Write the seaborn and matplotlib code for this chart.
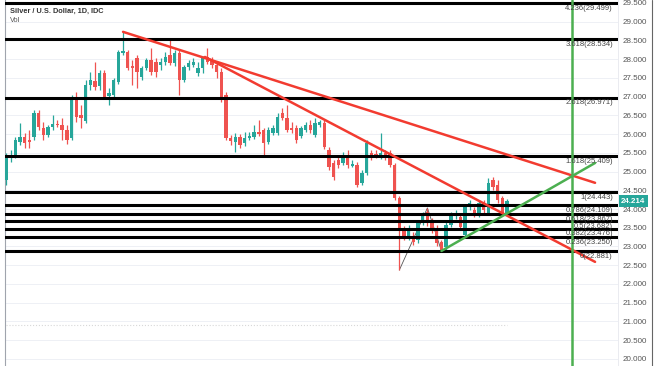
import matplotlib
matplotlib.use("Agg")
import matplotlib.pyplot as plt
import matplotlib.transforms as mtransforms
from matplotlib.lines import Line2D
import numpy as np
import seaborn as sns

# daily candles (oldest first)
opens = [24.78, 25.39, 25.44, 25.79, 25.92, 25.82, 25.92, 26.56, 26.16, 25.98,
         26.19, 26.27, 26.24, 26.11, 25.90, 26.91, 26.51, 26.35, 27.31, 27.42,
         27.28, 27.63, 27.02, 27.04, 27.39, 28.17, 28.19, 27.79, 28.03, 27.53,
         27.77, 27.98, 27.93, 27.85, 27.93, 28.11, 27.90, 28.17, 27.45, 27.79,
         27.85, 27.63, 27.77, 28.06, 27.98, 27.85, 27.66, 27.04, 25.90, 25.79,
         25.92, 25.76, 25.90, 25.92, 26.06, 26.11, 25.79, 26.03, 26.03, 26.56,
         26.43, 26.16, 26.16, 25.95, 26.11, 26.24, 25.98, 26.24, 26.30, 25.58,
         25.23, 25.31, 25.23, 25.39, 25.16, 25.18, 24.70, 24.96, 25.50, 25.44,
         25.39, 25.50, 25.50, 25.18, 24.30, 23.44, 23.26, 23.26, 23.18, 23.66,
         23.92, 23.66, 23.49, 23.12, 22.99, 23.58, 23.82, 23.79, 23.31, 24.06,
         23.98, 23.84, 24.16, 23.90, 24.78, 24.64, 24.30, 23.90]
highs = [25.50, 25.58, 25.92, 26.30, 26.03, 26.11, 26.64, 26.64, 26.32, 26.24,
         26.51, 26.38, 26.43, 26.24, 27.04, 27.12, 26.78, 27.45, 27.66, 27.93,
         27.71, 27.71, 27.23, 27.50, 28.25, 28.73, 28.25, 27.98, 28.11, 27.82,
         28.03, 28.30, 28.03, 28.03, 28.19, 28.57, 28.25, 28.25, 27.85, 27.98,
         28.03, 27.93, 28.09, 28.30, 28.06, 27.93, 27.77, 27.12, 25.98, 26.03,
         26.00, 26.06, 26.06, 26.24, 26.38, 26.16, 26.19, 26.24, 26.56, 26.70,
         26.78, 26.32, 26.24, 26.22, 26.32, 26.38, 26.43, 26.38, 26.38, 25.66,
         25.31, 25.39, 25.52, 25.58, 25.31, 25.26, 25.04, 25.84, 25.58, 25.58,
         26.03, 25.58, 25.58, 25.23, 24.35, 23.55, 23.58, 23.39, 23.71, 23.92,
         24.03, 23.76, 23.58, 23.18, 23.66, 23.92, 23.98, 23.87, 24.14, 24.24,
         24.06, 24.24, 24.24, 24.83, 24.86, 24.78, 24.35, 24.27]
lows = [24.64, 25.26, 25.36, 25.71, 25.63, 25.63, 25.84, 26.11, 25.84, 25.92,
        26.11, 26.19, 25.84, 25.74, 25.84, 26.32, 26.16, 26.30, 27.18, 27.18,
        27.18, 26.96, 26.78, 26.99, 27.34, 28.11, 27.71, 27.31, 27.23, 27.45,
        27.71, 27.58, 27.53, 27.71, 27.85, 27.85, 27.82, 27.04, 27.39, 27.71,
        27.79, 27.55, 27.63, 27.87, 27.77, 27.50, 26.86, 25.84, 25.71, 25.52,
        25.63, 25.68, 25.84, 25.87, 25.95, 25.44, 25.74, 25.98, 25.98, 26.38,
        26.06, 26.03, 25.76, 25.90, 26.06, 26.03, 25.92, 26.19, 25.60, 25.04,
        24.78, 25.10, 25.18, 25.10, 25.12, 24.59, 24.64, 24.91, 25.31, 25.36,
        25.34, 25.31, 25.12, 24.24, 22.37, 23.18, 23.18, 23.04, 23.10, 23.58,
        23.55, 23.36, 23.01, 22.881, 22.91, 23.52, 23.74, 23.44, 23.26, 23.98,
        23.79, 23.79, 23.90, 23.84, 24.51, 24.16, 23.84, 23.84]
closes = [25.39, 25.44, 25.84, 25.92, 25.76, 25.79, 26.56, 26.19, 25.98, 26.19,
          26.27, 26.24, 26.11, 25.84, 26.91, 26.46, 26.43, 27.31, 27.45, 27.26,
          27.63, 26.99, 27.10, 27.45, 28.19, 28.22, 27.77, 27.77, 27.66, 27.77,
          27.98, 27.66, 27.66, 27.93, 28.06, 27.90, 28.17, 27.45, 27.79, 27.90,
          27.93, 27.77, 28.03, 27.93, 27.85, 27.66, 26.91, 25.90, 25.82, 25.92,
          25.71, 25.90, 25.95, 26.06, 26.00, 25.76, 26.11, 26.16, 26.46, 26.43,
          26.11, 26.11, 25.84, 26.16, 26.24, 26.11, 26.30, 26.32, 25.66, 25.12,
          24.86, 25.18, 25.39, 25.18, 25.18, 24.64, 24.96, 25.76, 25.39, 25.42,
          25.50, 25.39, 25.18, 24.30, 23.44, 23.26, 23.49, 23.12, 23.66, 23.84,
          23.63, 23.44, 23.10, 22.91, 23.58, 23.84, 23.84, 23.52, 24.06, 24.16,
          23.84, 24.16, 23.98, 24.70, 24.59, 24.24, 23.90, 24.214]

# fibonacci extension levels
fib_ratios = ["4.236", "3.618", "2.618", "1.618", "1", "0.786", "0.618", "0.5", "0.382", "0.236", "0"]
fib_prices = [29.499, 28.534, 26.971, 25.409, 24.443, 24.109, 23.867, 23.682, 23.476, 23.250, 22.881]

price_ticks = [20.0, 20.5, 21.0, 21.5, 22.0, 22.5, 23.0, 23.5, 24.0, 24.5,
               25.0, 25.5, 26.0, 26.5, 27.0, 27.5, 28.0, 28.5, 29.0, 29.5]
last_price = 24.214

# drawings: (bar index, price)
upper_trend_x = [25, 125.8]
upper_trend_y = [28.73, 24.70]
lower_trend_x = [42.5, 125.8]
lower_trend_y = [28.06, 22.59]
support_x = [93, 125.8]
support_y = [22.881, 25.23]
wave_x = [84, 90, 93]
wave_y = [22.37, 24.03, 22.881]
time_marker = 120.9

GREEN = "#26a69a"
RED = "#ef5350"
LINE_RED = "#f23b30"
LINE_GREEN = "#4caf50"

sns.set_theme(style="white")
plt.rcParams["font.family"] = ["Liberation Sans", "DejaVu Sans"]

fig = plt.figure(figsize=(6.54, 3.66), dpi=100)
ax = fig.add_axes([5 / 654, 0, 613 / 654, 1])

# light price grid
for t in price_ticks:
    ax.axhline(t, color="#eef0f5", lw=0.7, zorder=0)

o = np.array(opens)
h = np.array(highs)
l = np.array(lows)
c = np.array(closes)
idx = np.arange(len(c))
colors = np.where(c >= o, GREEN, RED)

ax.hlines(20.91, 0, len(c) - 1, colors="#d8d8d8", linestyles=":", lw=0.8, zorder=1)
sns.lineplot(x=wave_x, y=wave_y, color="#555555", lw=0.6, ax=ax, zorder=2)

ax.vlines(idx, l, h, colors=colors, lw=0.9, zorder=3)
ax.bar(idx, np.maximum(np.abs(c - o), 0.04), bottom=np.minimum(o, c),
       width=0.72, color=colors, linewidth=0, zorder=4)

# fib levels
for r, p in zip(fib_ratios, fib_prices):
    ax.axhline(p, color="black", lw=2.2, zorder=5)
    ax.text(129.6, p - 0.045, f"{r}({p:.3f})", ha="right", va="top",
            fontsize=5.5, color="#444444", zorder=8)

sns.lineplot(x=upper_trend_x, y=upper_trend_y, color=LINE_RED, lw=1.8, ax=ax, zorder=6)
sns.lineplot(x=lower_trend_x, y=lower_trend_y, color=LINE_RED, lw=1.8, ax=ax, zorder=6)
sns.lineplot(x=support_x, y=support_y, color=LINE_GREEN, lw=1.8, ax=ax, zorder=6)
ax.axvline(time_marker, color=LINE_GREEN, lw=1.8, zorder=6)

ax.set_xlim(-0.21, 130.7)
ax.set_ylim(19.81, 29.58)
ax.set_xticks([])
ax.set_xlabel("")
ax.set_ylabel("")
ax.yaxis.tick_right()
ax.set_yticks(price_ticks)
ax.set_yticklabels([f"{t:.3f}" for t in price_ticks])
ax.tick_params(axis="y", length=0, pad=3, labelsize=5.8, labelcolor="#555555")

for side in ["top", "bottom"]:
    ax.spines[side].set_visible(False)
ax.spines["left"].set_color("#a0a4ad")
ax.spines["left"].set_linewidth(0.8)
ax.spines["right"].set_color("#e6e8ee")
ax.spines["right"].set_linewidth(0.6)

# last price tag
trans = mtransforms.blended_transform_factory(ax.transAxes, ax.transData)
ax.text(1 + 3 / 613, last_price, f"{last_price:.3f}", transform=trans, ha="left",
        va="center", fontsize=5.8, color="white", fontweight="bold", zorder=10,
        bbox=dict(boxstyle="square,pad=0.3", fc=GREEN, ec="none"), clip_on=False)

fig.text(10 / 654, 1 - 11 / 366, "Silver / U.S. Dollar, 1D, IDC", fontsize=5.3,
         fontweight="bold", color="#333333", va="center")
fig.text(10 / 654, 1 - 21 / 366, "Vol", fontsize=5.3, color="#555555", va="center")

fig.add_artist(Line2D([651.5 / 654, 651.5 / 654], [0, 1], color="#666666", lw=0.8))

fig.savefig("out.png", dpi=100)
plt.close(fig)
